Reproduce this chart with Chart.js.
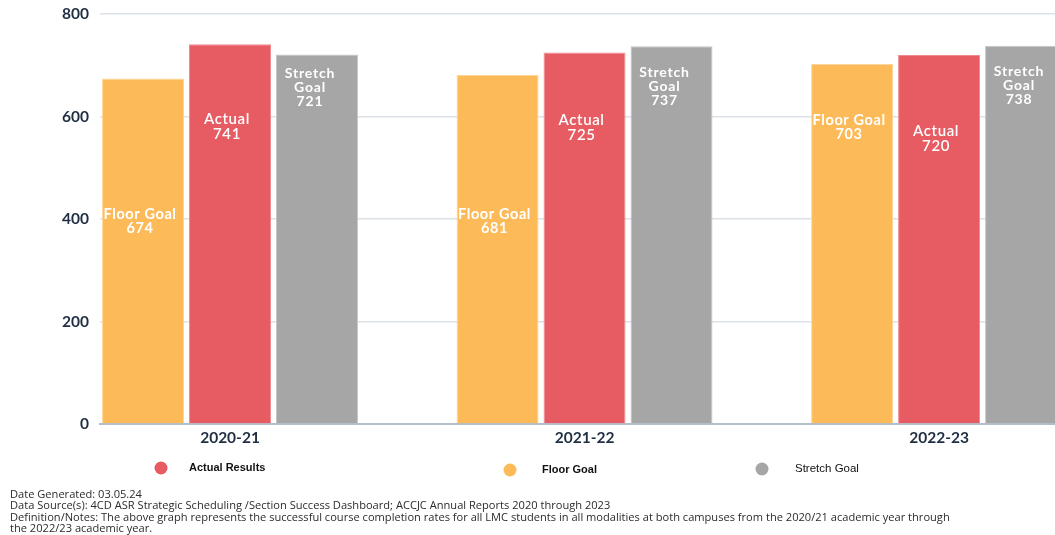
<!DOCTYPE html>
<html>
<head>
<meta charset="utf-8">
<title>Course Completion</title>
<script src="https://cdn.jsdelivr.net/npm/chart.js@4.4.1/dist/chart.umd.min.js"></script>
<style>
  html, body { margin: 0; padding: 0; background: #fff; overflow: hidden; }
  .wrap { position: relative; width: 1055px; height: 535px; }
  #grafica { position: absolute; left: 0; top: 0; }
  .notas {
    position: absolute; left: 10px; top: 488px;
    font-family: "Open Sans", Lato, sans-serif; font-size: 11.1px; line-height: 11.3px;
    color: #2b2b2b;
  }
</style>
</head>
<body>
<div class="wrap">
  <canvas id="grafica" width="1055" height="535"></canvas>
  <div class="notas">
    Date Generated: 03.05.24<br>
    Data Source(s): 4CD ASR Strategic Scheduling /Section Success Dashboard; ACCJC Annual Reports 2020 through 2023<br>
    Definition/Notes: The above graph represents the successful course completion rates for all LMC students in all modalities at both campuses from the 2020/21 academic year through<br>
    the 2022/23 academic year.
  </div>
</div>
<script>
// Datos
const years = ['2020-21', '2021-22', '2022-23'];
const floorGoal = [674, 681, 703];
const actual = [741, 725, 720];
const stretchGoal = [721, 737, 738];
const yTicks = [0, 200, 400, 600, 800];
const legendNames = ['Actual Results', 'Floor Goal', 'Stretch Goal'];

// altura (en unidades del eje) donde va el texto dentro de cada barra
const labelAt = {
  floor: [396, 396, 578],
  actual: [580, 579, 556],
  stretch: [656, 658, 660]
};

const colores = {
  floor: '#FDBA58',
  actual: '#E75B63',
  stretch: '#A6A6A6'
};

const toPoints = arr => arr.map((v, i) => ({ x: i, y: v }));

// Texto blanco dentro de las barras
const barText = {
  id: 'barText',
  afterDatasetsDraw(chart) {
    const ctx = chart.ctx;
    const yScale = chart.scales.y;
    chart.data.datasets.forEach((ds, d) => {
      const meta = chart.getDatasetMeta(d);
      meta.data.forEach((bar, i) => {
        const lines = ds.textLines.concat([String(ds.data[i].y)]);
        const cy = yScale.getPixelForValue(ds.labelAt[i]);
        const lh = ds.lineH;
        const top = cy - (lines.length - 1) * lh / 2;
        ctx.save();
        ctx.fillStyle = '#ffffff';
        ctx.font = ds.textFont;
        ctx.letterSpacing = ds.spacing;
        ctx.textAlign = 'center';
        ctx.textBaseline = 'middle';
        lines.forEach((t, k) => ctx.fillText(t, bar.x + ds.textDx, top + k * lh));
        ctx.restore();
      });
    });
  }
};

// Leyenda de puntos debajo del eje
const leyenda = {
  id: 'leyenda',
  afterDraw(chart) {
    const ctx = chart.ctx;
    const items = [
      { name: legendNames[0], color: colores.actual, dot: 161, text: 189, y: 468, font: 'bold 11px "Liberation Sans", Arial, sans-serif' },
      { name: legendNames[1], color: colores.floor, dot: 510, text: 542, y: 470, font: 'bold 11px "Liberation Sans", Arial, sans-serif' },
      { name: legendNames[2], color: colores.stretch, dot: 762, text: 795, y: 469, font: '11.5px "Liberation Sans", Arial, sans-serif' }
    ];
    ctx.save();
    items.forEach(it => {
      ctx.beginPath();
      ctx.fillStyle = it.color;
      ctx.arc(it.dot, it.y, 6.5, 0, Math.PI * 2);
      ctx.fill();
      ctx.fillStyle = '#111';
      ctx.font = it.font;
      ctx.textAlign = 'left';
      ctx.textBaseline = 'middle';
      ctx.fillText(it.name, it.text, it.y);
    });
    ctx.restore();
  }
};

new Chart(document.getElementById('grafica'), {
  type: 'bar',
  data: {
    datasets: [
      {
        label: 'Floor Goal',
        data: toPoints(floorGoal),
        backgroundColor: colores.floor,
        borderColor: '#FFD596',
        borderWidth: 1,
        textLines: ['Floor Goal'],
        labelAt: labelAt.floor,
        textFont: 'bold 14.5px Lato, sans-serif',
        spacing: '0.6px',
        lineH: 14,
        textDx: -3
      },
      {
        label: 'Actual',
        data: toPoints(actual),
        backgroundColor: colores.actual,
        borderColor: '#EE8A90',
        borderWidth: 1,
        textLines: ['Actual'],
        labelAt: labelAt.actual,
        textFont: '600 15px Lato, sans-serif',
        spacing: '0.6px',
        lineH: 15,
        textDx: -3
      },
      {
        label: 'Stretch Goal',
        data: toPoints(stretchGoal),
        backgroundColor: colores.stretch,
        borderColor: '#C6C6C6',
        borderWidth: 1,
        textLines: ['Stretch', 'Goal'],
        labelAt: labelAt.stretch,
        textFont: 'bold 14px Lato, sans-serif',
        spacing: '0.8px',
        lineH: 14,
        textDx: -7
      }
    ]
  },
  options: {
    responsive: false,
    animation: false,
    categoryPercentage: 0.736,
    barPercentage: 0.9425,
    layout: { padding: { top: 14, right: 0, left: 0, bottom: 81 } },
    plugins: {
      legend: { display: false },
      tooltip: { enabled: false }
    },
    scales: {
      x: {
        type: 'linear',
        offset: false,
        min: -0.3667,
        max: 2.327,
        afterBuildTicks: scale => { scale.ticks = years.map((_, i) => ({ value: i })); },
        afterFit: scale => { scale.height = 30; scale.paddingLeft = 0; scale.paddingRight = 0; },
        grid: { display: false, drawTicks: false },
        border: { display: true, color: '#B5BEC8', width: 2 },
        ticks: {
          padding: 5,
          color: '#1F2E42',
          font: { family: 'Lato', size: 15.5, weight: 'bold' },
          callback: v => years[v] || ''
        }
      },
      y: {
        min: 0,
        max: 800,
        afterBuildTicks: scale => { scale.ticks = yTicks.map(v => ({ value: v })); },
        afterFit: scale => { scale.width = 100; scale.paddingTop = 0; scale.paddingBottom = 0; },
        grid: { color: '#DCE2E8', lineWidth: 1.5, drawTicks: false },
        border: { display: false },
        ticks: {
          padding: 11,
          color: '#1F2E42',
          font: { family: 'Lato', size: 15.5, weight: 'bold' }
        }
      }
    }
  },
  plugins: [barText, leyenda]
});
</script>
</body>
</html>
